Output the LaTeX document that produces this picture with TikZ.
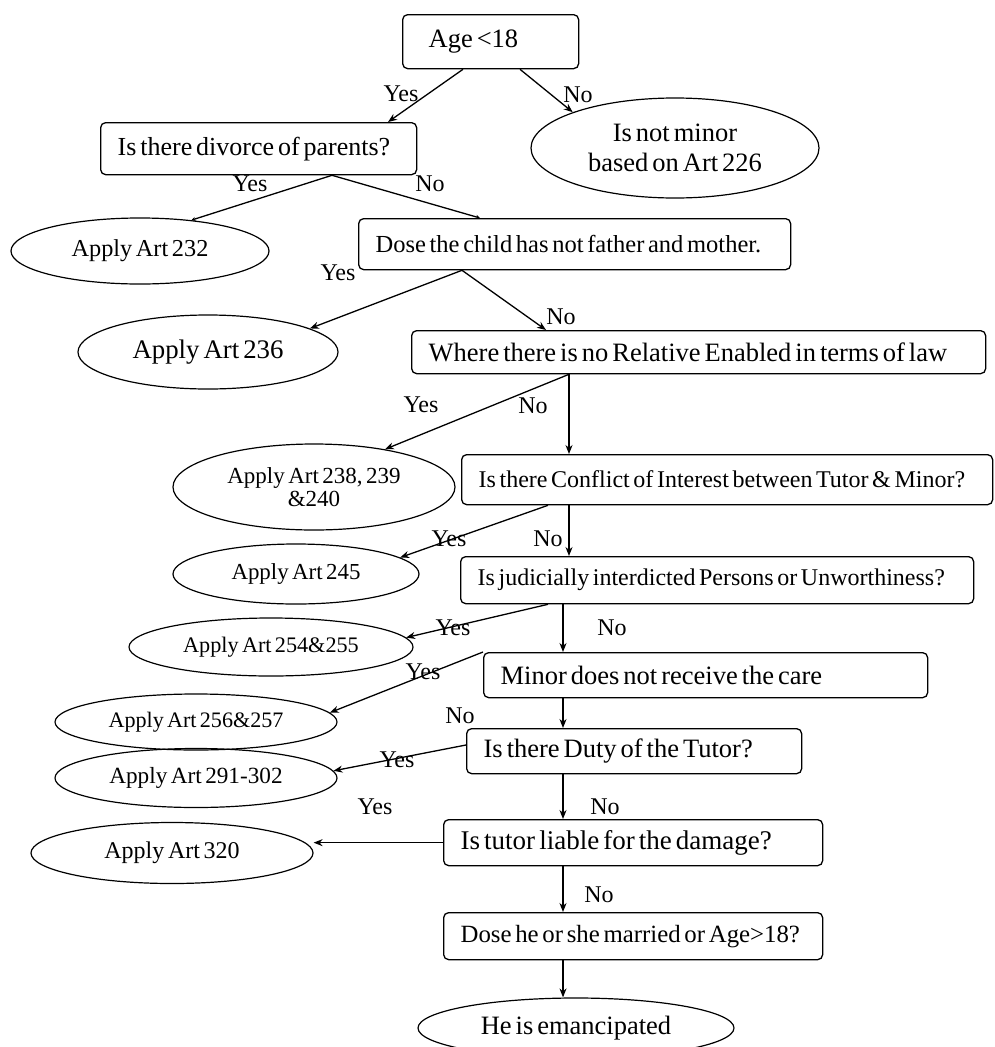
\documentclass[tikz,border=0pt]{standalone}
\usepackage{fontspec}
\setmainfont{Liberation Serif}[WordSpace=0.6]
\usetikzlibrary{shapes.geometric,arrows.meta,calc}
% left-aligned line of fixed width inside a decision box
\newcommand{\boxline}[2]{\makebox[#1pt][l]{#2}}
\begin{document}
\begin{tikzpicture}[x=1pt,y=-1pt,
  qbox/.style={draw, line width=1.3pt, rounded corners=5pt, anchor=north west,
               inner xsep=17pt, inner ysep=0pt},
  oval/.style={draw, ellipse, line width=1.2pt, inner sep=0pt, align=center},
  flow/.style={line width=1.3pt, -{Stealth[length=9pt,width=7pt]}},
  lbl/.style={inner sep=0pt, font=\fontsize{24}{28}\selectfont},
]
\fill[white] (0,0) rectangle (994,1047);
\useasboundingbox (0,0) rectangle (994,1047);

% decision boxes
\node[qbox, inner xsep=26pt, minimum height=54pt,
      font=\fontsize{26.5}{30}\selectfont] (age) at (402,14) {\boxline{124}{Age <18}};
\node[qbox, minimum height=52pt,
      font=\fontsize{26}{29}\selectfont] (div) at (100,122) {\boxline{282}{Is there divorce of parents?}};
\node[qbox, minimum height=51pt,
      font=\fontsize{24.5}{28}\selectfont] (dose) at (358,218) {\boxline{398}{Dose the child has not father and mother.}};
\node[qbox, minimum height=43pt,
      font=\fontsize{26.5}{29}\selectfont] (where) at (411,330) {\boxline{540}{Where there is no Relative Enabled in terms of law}};
\node[qbox, minimum height=50pt,
      font=\fontsize{24}{28}\selectfont] (conf) at (461,454) {\boxline{497}{Is there Conflict of Interest between Tutor \& Minor?}};
\node[qbox, minimum height=47pt,
      font=\fontsize{24}{28}\selectfont] (interd) at (460,556) {\boxline{479}{Is judicially interdicted Persons or Unworthiness?}};
\node[qbox, minimum height=45pt,
      font=\fontsize{26.5}{30}\selectfont] (minor) at (483,652) {\boxline{410}{Minor does not receive the care}};
\node[qbox, minimum height=45pt,
      font=\fontsize{26.5}{30}\selectfont] (duty) at (466,728) {\boxline{301}{Is there Duty of the Tutor?}};
\node[qbox, minimum height=46pt,
      font=\fontsize{27}{30}\selectfont] (tutor) at (443,819) {\boxline{345}{Is tutor liable for the damage?}};
\node[qbox, minimum height=47pt,
      font=\fontsize{24.8}{28}\selectfont] (doseh) at (443,912) {\boxline{345}{Dose he or she married or Age>18?}};

% outcome ovals
\node[oval, minimum width=288pt, minimum height=100pt,
      font=\fontsize{26.5}{30}\selectfont] (notminor) at (675,148) {Is not minor\\based on Art 226};
\node[oval, minimum width=258pt, minimum height=66pt,
      font=\fontsize{24.3}{28}\selectfont] (a232) at (140,251) {Apply Art 232};
\node[oval, minimum width=260pt, minimum height=74pt,
      font=\fontsize{26.8}{30}\selectfont] (a236) at (208,352) {Apply Art 236};
\node[oval, minimum width=282pt, minimum height=86pt,
      font=\fontsize{23}{23}\selectfont] (a238) at (314,487) {Apply Art 238, 239\\\&240};
\node[oval, minimum width=246pt, minimum height=60pt,
      font=\fontsize{22.9}{26}\selectfont] (a245) at (296,574) {Apply Art 245};
\node[oval, minimum width=284pt, minimum height=58pt,
      font=\fontsize{22.2}{26}\selectfont] (a254) at (271,647) {Apply Art 254\&255};
\node[oval, minimum width=282pt, minimum height=56pt,
      font=\fontsize{22.1}{26}\selectfont] (a256) at (196,722) {Apply Art 256\&257};
\node[oval, minimum width=282pt, minimum height=59pt,
      font=\fontsize{23.2}{26}\selectfont] (a291) at (196,778) {Apply Art 291-302};
\node[oval, minimum width=282pt, minimum height=61pt,
      font=\fontsize{24}{27}\selectfont] (a320) at (172,853) {Apply Art 320};
\node[oval, minimum width=316pt, minimum height=60pt,
      font=\fontsize{26.5}{30}\selectfont] (eman) at (576,1028) {He is emancipated};

% branch points on the boxes
\coordinate (ageY) at ($(age.south west)+(61,0)$);
\coordinate (ageN) at ($(age.south west)+(118,0)$);
\coordinate (divB) at ($(div.south west)+(232,0)$);
\coordinate (doseB) at ($(dose.south west)+(104,0)$);
\coordinate (whereB) at ($(where.south west)+(158,0)$);
\coordinate (confY) at ($(conf.south west)+(87,0)$);
\coordinate (confN) at ($(conf.south west)+(108,0)$);
\coordinate (interdY) at ($(interd.south west)+(88,0)$);
\coordinate (interdN) at ($(interd.south west)+(103,0)$);
\coordinate (minorN) at ($(minor.south west)+(80,0)$);
\coordinate (dutyY) at ($(duty.north west)+(0,17)$);
\coordinate (dutyN) at ($(duty.south west)+(97,0)$);
\coordinate (tutorN) at ($(tutor.south west)+(120,0)$);
\coordinate (dosehN) at ($(doseh.south west)+(120,0)$);

% connectors
\draw[flow] (ageY) -- ($(div.north west)+(288,0)$);
\draw[flow] (ageN) -- (notminor.north west);
\draw[flow, -{Stealth[length=4pt,width=4pt]}] (divB) -- (a232.31);
\draw[flow, -{Stealth[length=4pt,width=4pt]}] (divB) -- ($(dose.north west)+(122,0)$);
\draw[flow] (doseB) -- (a236.13);
\draw[flow] (doseB) -- ($(where.north west)+(135,0)$);
\draw[flow] (whereB) -- (a238.28);
\draw[flow] (whereB) -- ($(conf.north west)+(108,0)$);
\draw[flow] (confY) -- (a245.9);
\draw[flow] (confN) -- ($(interd.north west)+(109,0)$);
\draw[flow] (interdY) -- (a254.4);
\draw[flow] (interdN) -- ($(minor.north west)+(80,0)$);
\draw[flow] (minor.north west) -- (a256.4);
\draw[flow] (minorN) -- ($(duty.north west)+(97,0)$);
\draw[flow] (dutyY) -- (a291.3);
\draw[flow] (dutyN) -- ($(tutor.north west)+(120,0)$);
\draw[flow] (tutor.west) -- (tutor.west -| a320.east);
\draw[flow] (tutorN) -- ($(doseh.north west)+(120,0)$);
\draw[flow] (dosehN) -- (dosehN |- eman.north);

% branch labels
\node[lbl] (l1) at (401,94) {Yes};
\node[lbl] (l2) at (578,95) {No};
\node[lbl] (l3) at (250,184) {Yes};
\node[lbl] (l4) at (430,184) {No};
\node[lbl] (l5) at (338,273) {Yes};
\node[lbl] (l6) at (561,317) {No};
\node[lbl] (l7) at (421,405) {Yes};
\node[lbl] (l8) at (533,406) {No};
\node[lbl] (l9) at (449,539) {Yes};
\node[lbl] (l10) at (548,539) {No};
\node[lbl] (l11) at (453,628) {Yes};
\node[lbl] (l12) at (612,628) {No};
\node[lbl] (l13) at (423,672) {Yes};
\node[lbl] (l14) at (460,716) {No};
\node[lbl] (l15) at (397,760) {Yes};
\node[lbl] (l16) at (605,807) {No};
\node[lbl] (l17) at (375,807) {Yes};
\node[lbl] (l18) at (599,895) {No};
\end{tikzpicture}
\end{document}
